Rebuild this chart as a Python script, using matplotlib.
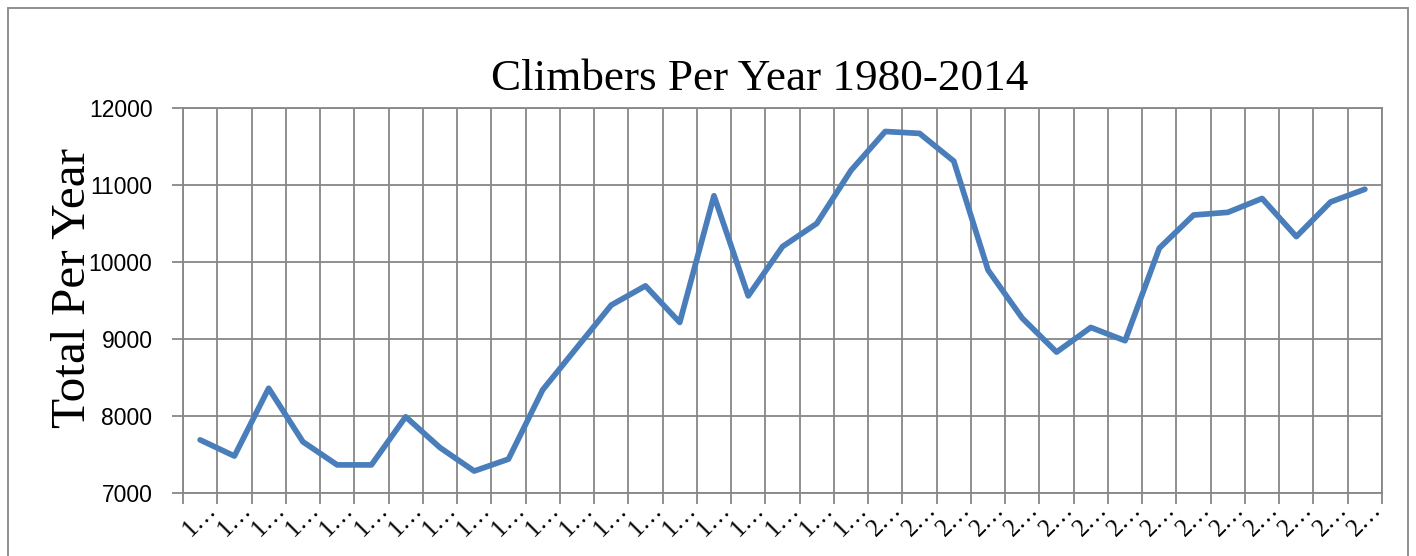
import numpy as np
import matplotlib.pyplot as plt
from matplotlib.patches import Rectangle

years = list(range(1980, 2015))
climbers = [7690, 7480, 8360, 7665, 7365, 7365, 7990, 7590, 7285, 7440,
            8340, 8890, 9440, 9690, 9215, 10860, 9560, 10200, 10500, 11190,
            11695, 11670, 11310, 9895, 9270, 8830, 9150, 8978, 10180, 10610,
            10645, 10825, 10330, 10780, 10945]
tick_labels = [str(y)[0] + '…' for y in years]

grid_col = '#878787'

fig = plt.figure(figsize=(14.16, 5.56), dpi=100)
fig.patches.append(Rectangle((8 / 1416, -0.1), 1400 / 1416, 1.1 - 8 / 556,
                             transform=fig.transFigure, fill=False,
                             edgecolor=grid_col, linewidth=1.3))

ax = fig.add_axes([183 / 1416, 63 / 556, 1199 / 1416, 385 / 556])
x = np.arange(len(years)) + 0.5
ax.plot(x, climbers, color='#4A7EBB', linewidth=4.1, solid_joinstyle='round',
        solid_capstyle='round', zorder=3)

ax.set_xlim(0, len(years))
ax.set_ylim(7000, 12000)
ax.set_yticks(np.arange(7000, 12001, 1000))
ax.set_xticks(np.arange(0, len(years) + 1))
ax.set_xticklabels([])
ax.set_xticks(x, minor=True)
ax.set_xticklabels(tick_labels, minor=True, rotation=45, ha='center', va='top',
                   family='Liberation Serif', fontsize=18)
ax.tick_params(axis='x', which='minor', length=0, pad=4)
ax.tick_params(axis='both', which='major', length=8, width=1.3, color=grid_col,
               direction='out')
ax.tick_params(axis='y', labelsize=16.5, pad=14)
for lab in ax.get_yticklabels():
    lab.set_family('Liberation Sans')

ax.grid(True, which='major', color=grid_col, linewidth=1.3)
ax.set_axisbelow(True)
for s in ax.spines.values():
    s.set_color(grid_col)
    s.set_linewidth(1.3)

ax.set_title('Climbers Per Year 1980-2014', family='Liberation Serif',
             fontsize=32.5, pad=13, x=(760 - 183) / 1199)
ax.set_ylabel('Total Per Year', family='Liberation Serif', fontsize=35.5)
ax.yaxis.set_label_coords((95 - 183) / 1199, (268 - 63) / 385)

fig.savefig('out.png', dpi=100)
